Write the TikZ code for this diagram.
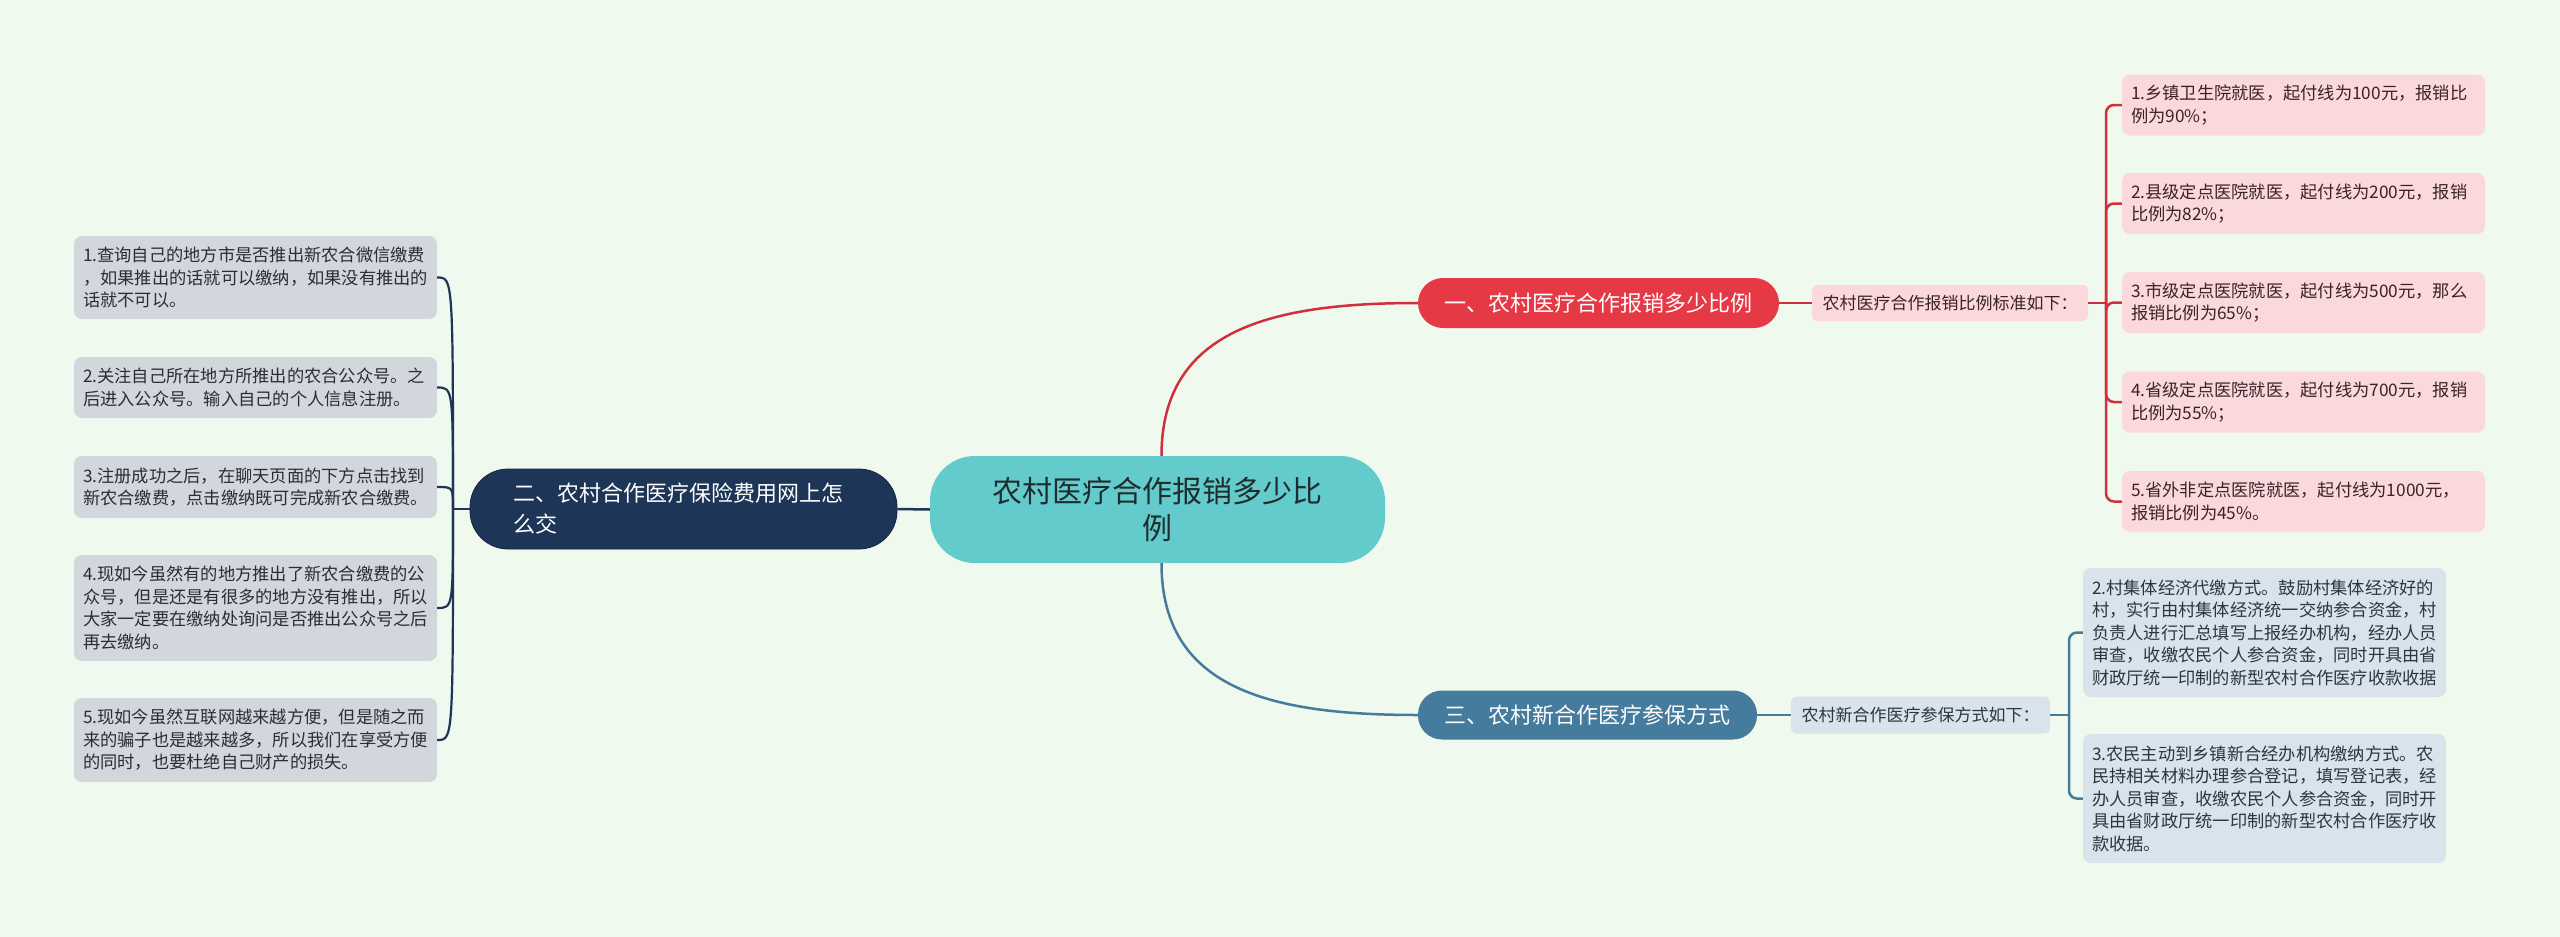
\documentclass[tikz,border=0pt]{standalone}
\usepackage{fontspec}
\setmainfont{Noto Sans CJK SC}
\usetikzlibrary{calc}
\definecolor{bg}{HTML}{F0F9EE}
\definecolor{cfill}{HTML}{64CBCC}
\definecolor{ctext}{HTML}{1F2D2F}
\definecolor{redn}{HTML}{E63946}
\definecolor{redl}{HTML}{D22F3E}
\definecolor{pinkf}{HTML}{FAD8DC}
\definecolor{pinkt}{HTML}{3A2327}
\definecolor{steel}{HTML}{457B9D}
\definecolor{bluef}{HTML}{D9E3EB}
\definecolor{bluet}{HTML}{2B3640}
\definecolor{navy}{HTML}{1D3557}
\definecolor{grayf}{HTML}{D2D7DE}
\definecolor{grayt}{HTML}{2A2D33}
\begin{document}
\begin{tikzpicture}[x=1pt,y=-1pt,
  leafbox/.style={rounded corners=8pt, text width=345pt, inner xsep=9pt, inner ysep=0pt,
    align=left, font=\fontsize{17.25pt}{22.5pt}\selectfont, anchor=center},
  lleaf/.style={leafbox, fill=grayf, text=grayt},
  pleaf/.style={leafbox, fill=pinkf, text=pinkt},
  bleaf/.style={leafbox, fill=bluef, text=bluet},
  labelbox/.style={rounded corners=5pt, inner xsep=8pt, inner ysep=0pt, align=center,
    font=\fontsize{17pt}{22pt}\selectfont, anchor=center},
  mainbox/.style={inner xsep=10pt, inner ysep=0pt, align=center, text=white,
    font=\fontsize{22pt}{28pt}\selectfont, anchor=center},
  redline/.style={draw=redl, line width=2.5pt},
  blueline/.style={draw=steel, line width=2.5pt},
  navyline/.style={draw=navy, line width=2.5pt},
]
\useasboundingbox (0,0) rectangle (2560,937);
\fill[bg] (0,0) rectangle (2560,937);

% central node
\node[rounded corners=45pt, fill=cfill, text=ctext, text width=400pt, inner xsep=27.5pt,
  inner ysep=0pt, minimum height=107pt, align=center,
  font=\fontsize{30pt}{37.5pt}\selectfont] (c) at (1157.5,509.5)
  {农村医疗合作报销多少比\\例};

% main branches
\node[mainbox, fill=redn, rounded corners=25pt, minimum width=361pt, minimum height=50pt]
  (n1) at (1598.5,303) {一、农村医疗合作报销多少比例};
\node[mainbox, fill=steel, rounded corners=24pt, minimum width=339pt, minimum height=49pt]
  (n3) at (1587.5,715) {三、农村新合作医疗参保方式};
\node[fill=navy, draw=navy!70!black, line width=0.8pt, rounded corners=38pt, text=white,
  text width=340pt, inner xsep=43.5pt, inner ysep=0pt, minimum height=80pt, align=left,
  font=\fontsize{22pt}{31pt}\selectfont] (n2) at (683.5,509)
  {二、农村合作医疗保险费用网上怎\\么交};

% labels
\node[labelbox, fill=pinkf, text=pinkt, minimum width=276pt, minimum height=36pt]
  (lab1) at (1950,303) {农村医疗合作报销比例标准如下：};
\node[labelbox, fill=bluef, text=bluet, minimum width=259pt, minimum height=37pt]
  (lab3) at (1920.5,715) {农村新合作医疗参保方式如下：};

% right pink leaves
\node[pleaf, minimum height=61pt] (p1) at (2303.5,105)
  {1.乡镇卫生院就医，起付线为100元，报销比\\例为90\%；};
\node[pleaf, minimum height=61pt] (p2) at (2303.5,203.5)
  {2.县级定点医院就医，起付线为200元，报销\\比例为82\%；};
\node[pleaf, minimum height=61pt] (p3) at (2303.5,302.5)
  {3.市级定点医院就医，起付线为500元，那么\\报销比例为65\%；};
\node[pleaf, minimum height=61pt] (p4) at (2303.5,402)
  {4.省级定点医院就医，起付线为700元，报销\\比例为55\%；};
\node[pleaf, minimum height=61pt] (p5) at (2303.5,501.5)
  {5.省外非定点医院就医，起付线为1000元，\\报销比例为45\%。};

% right blue leaves
\node[bleaf, minimum height=129pt] (b1) at (2264.5,632.5)
  {2.村集体经济代缴方式。鼓励村集体经济好的\\村，实行由村集体经济统一交纳参合资金，村\\负责人进行汇总填写上报经办机构，经办人员\\审查，收缴农民个人参合资金，同时开具由省\\财政厅统一印制的新型农村合作医疗收款收据};
\node[bleaf, minimum height=129pt] (b2) at (2264.5,798.5)
  {3.农民主动到乡镇新合经办机构缴纳方式。农\\民持相关材料办理参合登记，填写登记表，经\\办人员审查，收缴农民个人参合资金，同时开\\具由省财政厅统一印制的新型农村合作医疗收\\款收据。};

% left gray leaves
\node[lleaf, minimum height=83pt] (l1) at (255.5,277.5)
  {1.查询自己的地方市是否推出新农合微信缴费\\，如果推出的话就可以缴纳，如果没有推出的\\话就不可以。};
\node[lleaf, minimum height=61pt] (l2) at (255.5,387.5)
  {2.关注自己所在地方所推出的农合公众号。之\\后进入公众号。输入自己的个人信息注册。};
\node[lleaf, minimum height=62pt] (l3) at (255.5,487)
  {3.注册成功之后，在聊天页面的下方点击找到\\新农合缴费，点击缴纳既可完成新农合缴费。};
\node[lleaf, minimum height=106pt] (l4) at (255.5,608)
  {4.现如今虽然有的地方推出了新农合缴费的公\\众号，但是还是有很多的地方没有推出，所以\\大家一定要在缴纳处询问是否推出公众号之后\\再去缴纳。};
\node[lleaf, minimum height=84pt] (l5) at (255.5,740)
  {5.现如今虽然互联网越来越方便，但是随之而\\来的骗子也是越来越多，所以我们在享受方便\\的同时，也要杜绝自己财产的损失。};

% connectors: center to branches
\draw[redline] ([xshift=4pt]c.north) .. controls +(0,-126) and +(-147,0) .. (n1.west);
\draw[blueline] ([xshift=4pt]c.south) .. controls +(0,126) and +(-147,0) .. (n3.west);
\draw[navyline] (c.west) -- (n2.east);

% branch to labels
\draw[redline] (n1.east) -- (lab1.west);
\draw[blueline] (n3.east) -- (lab3.west);

% red bracket
\coordinate (jR) at (2106,303);
\draw[redline] (lab1.east) -- (jR);
\foreach \k in {1,...,5} {\draw[redline, rounded corners=8pt] (jR) |- (p\k.west);}

% blue bracket
\coordinate (jB) at (2069,715);
\draw[blueline] (lab3.east) -- (jB);
\foreach \k in {1,2} {\draw[blueline, rounded corners=8pt] (jB) |- (b\k.west);}

% left curves
\coordinate (jL) at (453,509);
\draw[navyline] (n2.west) -- (jL);
\foreach \k in {1,...,5} {\draw[draw=navy, line width=2.2pt] (jL) .. controls (jL |- l\k.east) .. (l\k.east);}
\end{tikzpicture}
\end{document}
